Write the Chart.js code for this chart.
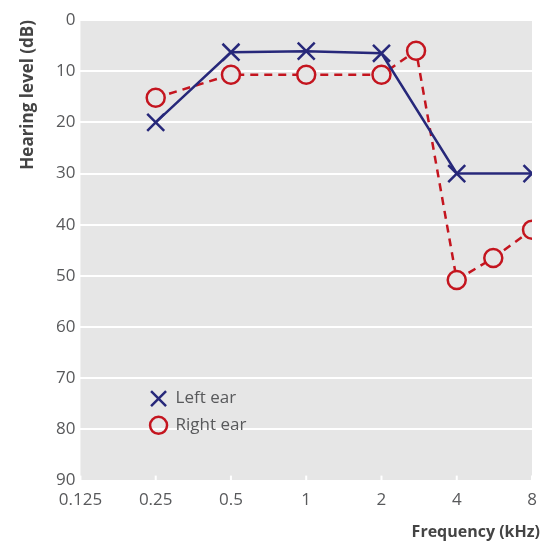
<!DOCTYPE html>
<html>
<head>
<meta charset="utf-8">
<script src="https://cdn.jsdelivr.net/npm/chart.js@4/dist/chart.umd.min.js"></script>
<style>
  html, body { margin: 0; padding: 0; background: #fff; }
  #wrap { width: 542px; height: 545px; position: relative; }
</style>
</head>
<body>
<div id="wrap"><canvas id="audiogram"></canvas></div>
<script>
// frequencies in kHz, hearing level in dB
const xTicks = [0.125, 0.25, 0.5, 1, 2, 4, 8];
const xTickLabels = ['0.125', '0.25', '0.5', '1', '2', '4', '8'];
const yTicks = [0, 10, 20, 30, 40, 50, 60, 70, 80, 90];

const leftFreq = [0.25, 0.5, 1, 2, 4, 8];
const leftDb = [20, 6.3, 6.1, 6.5, 30, 30];

const rightFreq = [0.25, 0.5, 1, 2, 2.75, 4, 5.6, 8];
const rightDb = [15.2, 10.7, 10.7, 10.7, 6, 50.8, 46.5, 41];

const seriesNames = ['Left ear', 'Right ear'];
const xTitle = 'Frequency (kHz)';
const yTitle = 'Hearing level (dB)';

const BLUE = '#27287a';
const RED = '#c4151f';
const PANEL = '#e6e6e6';
const TXT = '#58595b';
const TITLE = '#444444';

const toPoints = (xs, ys) => xs.map((x, i) => ({ x: x, y: ys[i] }));

// gray panel, bottom ticks, axis titles and the legend inside the plot
// (titles drawn by hand: chart.js flips the y title the wrong way on a reversed axis)
const panelPlugin = {
  id: 'panel',
  beforeDraw(chart) {
    const { ctx, chartArea: a } = chart;
    ctx.save();
    ctx.fillStyle = PANEL;
    ctx.fillRect(a.left, a.top, a.right - a.left, a.bottom - a.top);
    ctx.restore();
  },
  beforeDatasetsDraw(chart) {
    const { ctx, chartArea: a, scales } = chart;
    ctx.save();
    ctx.strokeStyle = '#ffffff';
    ctx.lineWidth = 2;
    xTicks.forEach(v => {
      const px = scales.x.getPixelForValue(v);
      ctx.beginPath();
      ctx.moveTo(px, a.bottom);
      ctx.lineTo(px, a.bottom - 5);
      ctx.stroke();
    });
    ctx.restore();
  },
  afterDatasetsDraw(chart) {
    const { ctx, chartArea: a, width, height } = chart;
    const w = a.right - a.left, h = a.bottom - a.top;
    const mx = a.left + 0.173 * w;
    const y1 = a.top + 0.822 * h;
    const y2 = a.top + 0.88 * h;
    ctx.save();
    // cross
    ctx.strokeStyle = BLUE;
    ctx.lineWidth = 2.5;
    const r = 7.5;
    ctx.beginPath();
    ctx.moveTo(mx - r, y1 - r); ctx.lineTo(mx + r, y1 + r);
    ctx.moveTo(mx + r, y1 - r); ctx.lineTo(mx - r, y1 + r);
    ctx.stroke();
    // circle
    ctx.strokeStyle = RED;
    ctx.beginPath();
    ctx.arc(mx, y2, 8.5, 0, Math.PI * 2);
    ctx.stroke();
    ctx.fillStyle = TXT;
    ctx.font = '17px "Open Sans"';
    ctx.textBaseline = 'middle';
    ctx.textAlign = 'left';
    ctx.fillText(seriesNames[0], mx + 17, y1);
    ctx.fillText(seriesNames[1], mx + 17, y2);

    // axis titles
    ctx.fillStyle = TITLE;
    ctx.font = 'bold 16px "Open Sans"';
    ctx.textAlign = 'right';
    ctx.fillText(xTitle, width - 2, height - 13);
    ctx.font = 'bold 17px "Open Sans"';
    ctx.translate(28, a.top);
    ctx.rotate(-Math.PI / 2);
    ctx.fillText(yTitle, 0, 0);
    ctx.restore();
  }
};

new Chart(document.getElementById('audiogram'), {
  type: 'line',
  data: {
    datasets: [{
      label: seriesNames[0],
      data: toPoints(leftFreq, leftDb),
      borderColor: BLUE,
      borderWidth: 2.5,
      pointStyle: 'crossRot',
      pointRadius: 12,
      pointBorderColor: BLUE,
      pointBorderWidth: 2.5,
      tension: 0
    }, {
      label: seriesNames[1],
      data: toPoints(rightFreq, rightDb),
      borderColor: RED,
      borderWidth: 2.5,
      borderDash: [8, 6],
      pointStyle: 'circle',
      pointRadius: 9,
      pointBackgroundColor: PANEL,
      pointBorderColor: RED,
      pointBorderWidth: 2.5,
      tension: 0
    }]
  },
  options: {
    responsive: true,
    maintainAspectRatio: false,
    animation: false,
    layout: { autoPadding: false, padding: { top: 20, right: 10, left: 51, bottom: 34 } },
    plugins: {
      legend: { display: false },
      tooltip: { enabled: false }
    },
    scales: {
      x: {
        type: 'logarithmic',
        min: 0.125,
        max: 8,
        afterBuildTicks: scale => { scale.ticks = xTicks.map(v => ({ value: v })); },
        ticks: {
          autoSkip: false,
          maxRotation: 0,
          color: TXT,
          font: { family: 'Open Sans', size: 17 },
          padding: 1,
          callback: (v) => xTickLabels[xTicks.indexOf(v)]
        },
        grid: { display: false },
        border: { display: false }
      },
      y: {
        reverse: true,
        min: 0,
        max: 90,
        afterBuildTicks: scale => { scale.ticks = yTicks.map(v => ({ value: v })); },
        ticks: {
          color: TXT,
          font: { family: 'Open Sans', size: 17 },
          padding: 5
        },
        grid: { color: '#ffffff', lineWidth: 2, drawTicks: false },
        border: { display: false }
      }
    }
  },
  plugins: [panelPlugin]
});
</script>
</body>
</html>
